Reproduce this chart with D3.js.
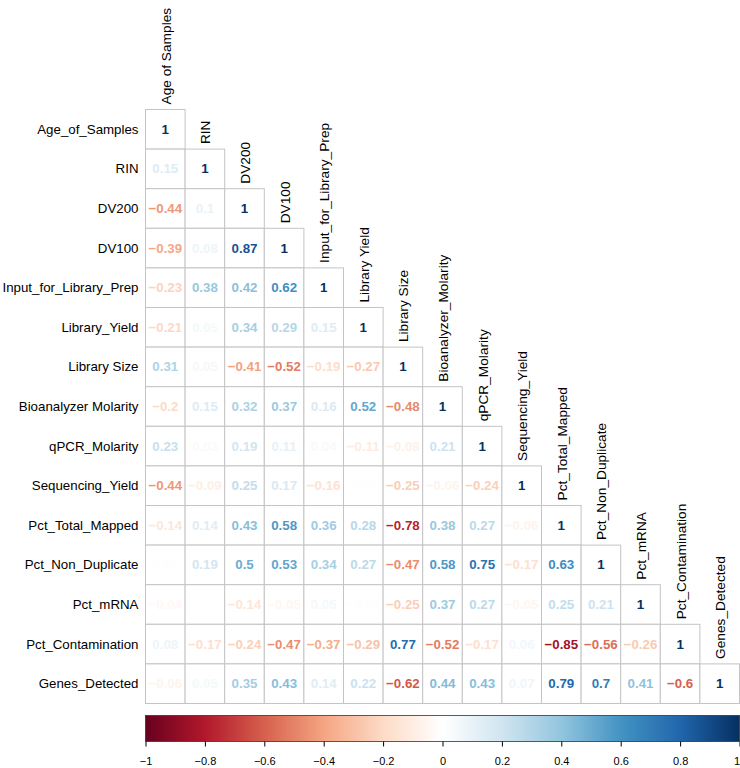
<!DOCTYPE html>
<html>
<head>
<meta charset="utf-8">
<script src="https://cdn.jsdelivr.net/npm/d3@7"></script>
<style>
  html, body { margin: 0; padding: 0; background: #fff; }
  svg { display: block; }
  text { font-family: "Liberation Sans", Arial, Helvetica, sans-serif; }
</style>
</head>
<body>
<svg id="chart" width="740" height="768"></svg>
<script>
// ---- data ----
const rowLabels = ["Age_of_Samples", "RIN", "DV200", "DV100", "Input_for_Library_Prep",
  "Library_Yield", "Library  Size", "Bioanalyzer  Molarity", "qPCR_Molarity", "Sequencing_Yield",
  "Pct_Total_Mapped", "Pct_Non_Duplicate", "Pct_mRNA", "Pct_Contamination", "Genes_Detected"];
const colLabels = ["Age  of  Samples", "RIN", "DV200", "DV100", "Input_for_Library_Prep",
  "Library  Yield", "Library  Size", "Bioanalyzer_Molarity", "qPCR_Molarity", "Sequencing_Yield",
  "Pct_Total_Mapped", "Pct_Non_Duplicate", "Pct_mRNA", "Pct_Contamination", "Genes_Detected"];
// lower triangle, row by row
const corrRows = [
  [1],
  [0.15, 1],
  [-0.44, 0.1, 1],
  [-0.39, 0.08, 0.87, 1],
  [-0.23, 0.38, 0.42, 0.62, 1],
  [-0.21, 0.05, 0.34, 0.29, 0.15, 1],
  [0.31, 0.05, -0.41, -0.52, -0.19, -0.27, 1],
  [-0.2, 0.15, 0.32, 0.37, 0.16, 0.52, -0.48, 1],
  [0.23, 0.03, 0.19, 0.11, 0.04, -0.11, -0.08, 0.21, 1],
  [-0.44, -0.09, 0.25, 0.17, -0.16, 0.01, -0.25, -0.06, -0.24, 1],
  [-0.14, 0.14, 0.43, 0.58, 0.36, 0.28, -0.78, 0.38, 0.27, -0.06, 1],
  [0.01, 0.19, 0.5, 0.53, 0.34, 0.27, -0.47, 0.58, 0.75, -0.17, 0.63, 1],
  [-0.04, 0, -0.14, -0.05, 0.05, -0.01, -0.25, 0.37, 0.27, -0.05, 0.25, 0.21, 1],
  [0.08, -0.17, -0.24, -0.47, -0.37, -0.29, 0.77, -0.52, -0.17, 0.06, -0.85, -0.56, -0.26, 1],
  [-0.06, 0.05, 0.35, 0.43, 0.14, 0.22, -0.62, 0.44, 0.43, 0.07, 0.79, 0.7, 0.41, -0.6, 1]
];
const legendTicks = [-1, -0.8, -0.6, -0.4, -0.2, 0, 0.2, 0.4, 0.6, 0.8, 1];
const palette = ["#67001F", "#B2182B", "#D6604D", "#F4A582", "#FDDBC7", "#FFFFFF",
  "#D1E5F0", "#92C5DE", "#4393C3", "#2166AC", "#053061"];

// ---- layout ----
const svg = d3.select("#chart");
const gridLeft = 145.5, gridRight = 739.5, gridTop = 109.5, gridBottom = 703.5;
const idx = d3.range(rowLabels.length);
const x = d3.scaleBand().domain(idx).range([gridLeft, gridRight]);
const y = d3.scaleBand().domain(idx).range([gridTop, gridBottom]);
const color = d3.scaleLinear()
  .domain(d3.range(palette.length).map(i => -1 + 2 * i / (palette.length - 1)))
  .range(palette).interpolate(d3.interpolateRgb);

const cells = [];
corrRows.forEach((row, i) => row.forEach((v, j) => cells.push({ i, j, v })));

const fmt = v => (v === 1 ? "1" : String(v)).replace("-", "\u2212");

// cells
const gCells = svg.append("g");
gCells.selectAll("rect").data(cells).join("rect")
  .attr("x", d => x(d.j)).attr("y", d => y(d.i))
  .attr("width", x.bandwidth()).attr("height", y.bandwidth())
  .attr("fill", "#fff").attr("stroke", "#C4C4C4").attr("stroke-width", 1);

gCells.selectAll("text").data(cells).join("text")
  .attr("x", d => x(d.j) + x.bandwidth() / 2)
  .attr("y", d => y(d.i) + y.bandwidth() / 2)
  .attr("text-anchor", "middle").attr("dominant-baseline", "central")
  .attr("font-size", 13.3).attr("font-weight", "bold")
  .attr("fill", d => color(d.v))
  .text(d => fmt(d.v));

// row labels
svg.append("g").selectAll("text").data(rowLabels).join("text")
  .attr("x", gridLeft - 7)
  .attr("y", (d, i) => y(i) + y.bandwidth() / 2)
  .attr("text-anchor", "end").attr("dominant-baseline", "central")
  .attr("font-size", 13.3).attr("fill", "#000")
  .text(d => d);

// column labels (above diagonal cells, rotated)
svg.append("g").selectAll("text").data(colLabels).join("text")
  .attr("transform", (d, i) => `translate(${x(i) + x.bandwidth() / 2 + 1},${y(i) - 5}) rotate(-90)`)
  .attr("text-anchor", "start").attr("dominant-baseline", "central")
  .attr("font-size", 13.7).attr("fill", "#000")
  .text(d => d);

// colour legend
const legX = d3.scaleLinear().domain([-1, 1]).range([gridLeft, gridRight]);
const defs = svg.append("defs");
const grad = defs.append("linearGradient").attr("id", "cbar")
  .attr("x1", "0%").attr("x2", "100%").attr("y1", "0%").attr("y2", "0%");
grad.selectAll("stop").data(d3.range(0, 1.0001, 0.02)).join("stop")
  .attr("offset", d => (d * 100) + "%")
  .attr("stop-color", d => color(-1 + 2 * d));

const barTop = 715.5, barH = 26;
svg.append("rect")
  .attr("x", legX(-1)).attr("y", barTop)
  .attr("width", legX(1) - legX(-1)).attr("height", barH)
  .attr("fill", "url(#cbar)").attr("stroke", "#333").attr("stroke-width", 0.8);

const legAxis = d3.axisBottom(legX).tickValues(legendTicks)
  .tickSize(5).tickPadding(11)
  .tickFormat(d => d3.format("")(d).replace("-", "\u2212"));
const ga = svg.append("g").attr("transform", `translate(0,${barTop + barH})`).call(legAxis);
ga.select(".domain").remove();
ga.selectAll(".tick line").attr("stroke", "#000");
ga.selectAll(".tick text").attr("font-size", 11)
  .attr("font-family", "'Liberation Sans', Arial, sans-serif").attr("fill", "#000")
  .attr("dx", d => d === 1 ? -3 : 0);
</script>
</body>
</html>
